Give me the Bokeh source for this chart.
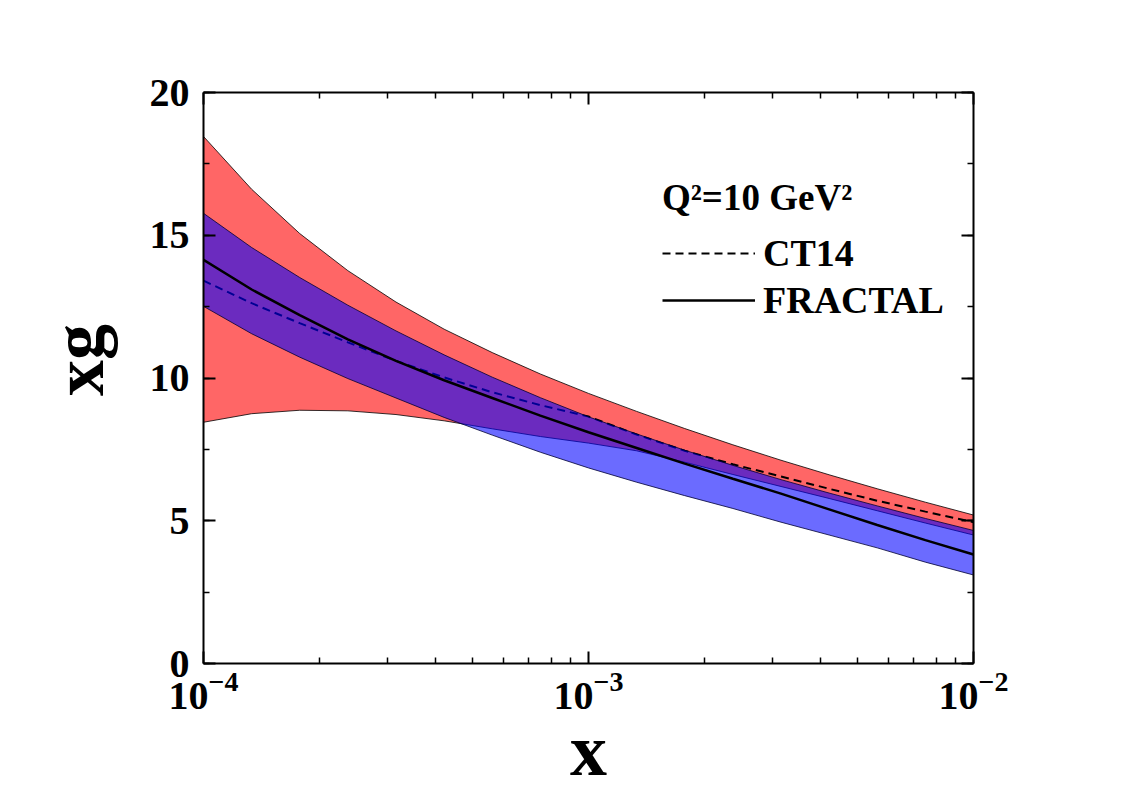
from bokeh.plotting import figure
from bokeh.models import (Range1d, LinearAxis, LogAxis, SingleIntervalTicker, FixedTicker,
                          Legend, LegendItem)
from bokeh.embed import file_html
from bokeh.resources import INLINE

# ---- data ----
x_vals = [1.000e-4, 1.334e-4, 1.778e-4, 2.371e-4, 3.162e-4, 4.217e-4, 5.623e-4, 7.499e-4,
          1.000e-3, 1.334e-3, 1.778e-3, 2.371e-3, 3.162e-3, 4.217e-3, 5.623e-3, 7.499e-3, 1.000e-2]
ct14_upper = [18.46, 16.61, 15.06, 13.76, 12.66, 11.71, 10.89, 10.14,
              9.46, 8.83, 8.23, 7.66, 7.12, 6.61, 6.12, 5.65, 5.20]
ct14_central = [13.41, 12.62, 11.92, 11.25, 10.60, 10.02, 9.50, 9.05,
                8.65, 8.02, 7.45, 6.98, 6.55, 6.12, 5.70, 5.32, 4.95]
ct14_lower = [8.45, 8.75, 8.87, 8.85, 8.72, 8.50, 8.22, 7.95,
              7.72, 7.45, 7.05, 6.62, 6.20, 5.78, 5.35, 4.92, 4.50]
fractal_upper = [15.77, 14.57, 13.52, 12.55, 11.65, 10.81, 10.03, 9.31,
                 8.64, 8.04, 7.47, 6.94, 6.44, 5.97, 5.52, 5.08, 4.66]
fractal_central = [14.14, 13.10, 12.20, 11.35, 10.60, 9.92, 9.30, 8.68,
                   8.10, 7.55, 7.00, 6.47, 5.95, 5.40, 4.85, 4.32, 3.82]
fractal_lower = [12.51, 11.55, 10.73, 9.98, 9.30, 8.62, 8.00, 7.40,
                 6.85, 6.35, 5.88, 5.43, 4.95, 4.50, 4.05, 3.55, 3.10]
x_major = [1e-4, 1e-3, 1e-2]
x_minor = [m * d for d in (1e-4, 1e-3) for m in range(2, 10)]
legend_title = "Q\u00b2=10 GeV\u00b2"
series_names = ["CT14", "FRACTAL"]

FONT = "Liberation Serif"

p = figure(frame_width=770, frame_height=571, x_axis_type="log",
           x_range=Range1d(1e-4, 1e-2), y_range=Range1d(0, 20),
           output_backend="svg", toolbar_location=None,
           min_border_left=203, min_border_right=142,
           min_border_top=92, min_border_bottom=100)
p.outline_line_color = None
p.xgrid.visible = False
p.ygrid.visible = False

# red CT14 band
p.varea(x=x_vals, y1=ct14_lower, y2=ct14_upper, fill_color="#FF6666", fill_alpha=1.0)
p.line(x_vals, ct14_upper, line_color="#000000", line_width=0.8)
p.line(x_vals, ct14_lower, line_color="#000000", line_width=0.8)
dash_r = p.line(x_vals, ct14_central, line_color="#000000", line_width=2, line_dash="8 5")

# blue FRACTAL band (translucent)
p.varea(x=x_vals, y1=fractal_lower, y2=fractal_upper, fill_color="#0000FF", fill_alpha=0.58)
p.line(x_vals, fractal_upper, line_color="#000033", line_width=0.8)
p.line(x_vals, fractal_lower, line_color="#000033", line_width=0.8)
solid_r = p.line(x_vals, fractal_central, line_color="#000000", line_width=2.5)

def style_axis(ax, show_labels):
    ax.axis_line_width = 2
    ax.axis_line_color = "black"
    ax.major_tick_in = 12
    ax.major_tick_out = 0
    ax.minor_tick_in = 6
    ax.minor_tick_out = 0
    ax.major_tick_line_width = 2
    ax.minor_tick_line_width = 1.5
    ax.major_label_text_font = FONT
    ax.major_label_text_font_style = "bold"
    ax.major_label_text_font_size = "40px"
    ax.major_label_text_color = "black" if show_labels else None
    ax.axis_label_text_font = FONT
    ax.axis_label_text_font_style = "bold"
    ax.axis_label_text_color = "black"

def x_ticker():
    return FixedTicker(ticks=x_major, minor_ticks=x_minor)

def y_ticker():
    return SingleIntervalTicker(interval=5, num_minor_ticks=2)

# bottom / left
xa = p.xaxis[0]
xa.ticker = x_ticker()
style_axis(xa, True)
xa.axis_label = "x"
xa.axis_label_text_font_size = "74px"
xa.major_label_standoff = 8
xa.axis_label_standoff = -3

ya = p.yaxis[0]
ya.ticker = y_ticker()
style_axis(ya, True)
ya.axis_label = "\u00a0\u00a0xg"
ya.axis_label_text_font_size = "72px"
ya.major_label_standoff = 14
ya.axis_label_standoff = 28

# top / right mirrored axes (ticks only)
top = LogAxis(ticker=x_ticker())
style_axis(top, False)
p.add_layout(top, "above")
right = LinearAxis(ticker=y_ticker())
style_axis(right, False)
p.add_layout(right, "right")

legend = Legend(items=[LegendItem(label=series_names[0], renderers=[dash_r]),
                       LegendItem(label=series_names[1], renderers=[solid_r])],
                location=(459, 341), title=legend_title,
                title_text_font=FONT, title_text_font_style="bold", title_text_font_size="37px",
                title_text_color="black", title_standoff=12,
                label_text_font=FONT, label_text_font_style="bold", label_text_font_size="38px",
                label_text_color="black",
                glyph_width=93, glyph_height=20, label_standoff=8, spacing=3,
                padding=0, margin=0,
                border_line_color=None, background_fill_alpha=0)
p.add_layout(legend, "center")

open("out.html", "w").write(file_html(p, INLINE))
